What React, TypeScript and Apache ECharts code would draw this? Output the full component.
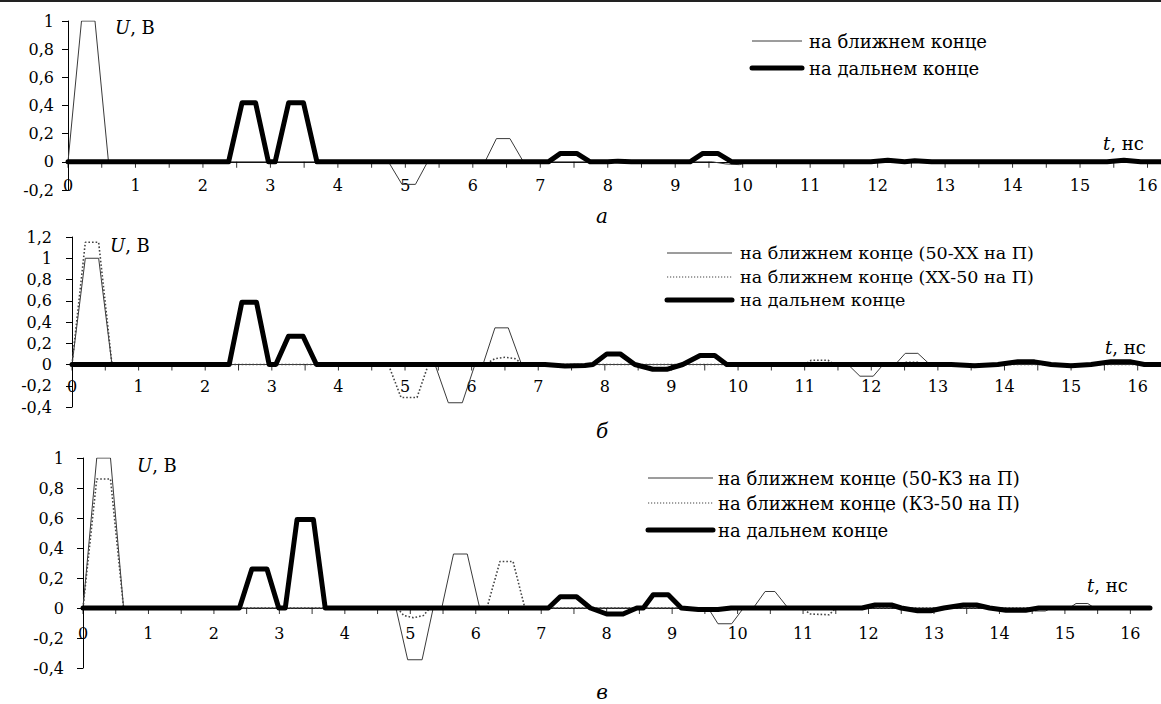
import React, { useEffect, useRef } from 'react';
import * as echarts from 'echarts';

const FONT = 'DejaVu Serif';

// x-axis tick positions (every 0.5 ns)
const xTicks: number[] = [
  0, 0.5, 1, 1.5, 2, 2.5, 3, 3.5, 4, 4.5, 5, 5.5, 6, 6.5, 7, 7.5, 8, 8.5, 9, 9.5,
  10, 10.5, 11, 11.5, 12, 12.5, 13, 13.5, 14, 14.5, 15, 15.5, 16,
];

// Panel а
const xMaxA = 16.2;
const nearA: number[][] = [
  [0, 0], [0.2, 1], [0.4, 1], [0.6, 0], [4.75, 0], [4.95, -0.16], [5.15, -0.16], [5.33, 0],
  [6.18, 0], [6.35, 0.165], [6.55, 0.165], [6.75, 0], [9.55, 0], [9.75, -0.015], [9.95, -0.02],
  [10.1, 0], [12.45, 0], [12.55, 0.01], [12.8, 0.01], [12.9, 0], [16.2, 0],
];
const farA: number[][] = [
  [0, 0], [2.38, 0], [2.58, 0.42], [2.78, 0.42], [2.97, 0], [3.07, 0], [3.27, 0.42], [3.49, 0.42],
  [3.69, 0], [7.12, 0], [7.3, 0.06], [7.54, 0.06], [7.74, 0], [8.0, 0], [8.15, 0.005], [8.35, 0],
  [9.22, 0], [9.41, 0.06], [9.63, 0.06], [9.84, 0], [11.9, 0], [12.15, 0.012], [12.4, 0],
  [12.55, 0.008], [12.8, 0], [15.4, 0], [15.65, 0.012], [15.9, 0], [16.2, 0],
];

// Panel б
const xMaxB = 16.35;
const nearB1: number[][] = [
  [0, 0], [0.2, 1], [0.4, 1], [0.6, 0], [5.45, 0], [5.65, -0.36], [5.86, -0.36], [6.05, 0],
  [6.17, 0], [6.35, 0.345], [6.55, 0.345], [6.75, 0], [11.65, 0], [11.83, -0.11], [12.03, -0.11],
  [12.18, 0], [12.36, 0], [12.51, 0.105], [12.7, 0.105], [12.88, 0], [16.35, 0],
];
const nearB2: number[][] = [
  [0, 0], [0.2, 1.15], [0.4, 1.15], [0.6, 0], [4.75, 0], [4.94, -0.31], [5.18, -0.31], [5.35, 0],
  [6.2, 0], [6.35, 0.055], [6.5, 0.068], [6.65, 0.055], [6.78, 0], [11.0, 0], [11.1, 0.04],
  [11.35, 0.04], [11.45, 0], [12.4, 0], [12.5, 0.02], [12.7, 0.02], [12.8, 0], [16.35, 0],
];
const farB: number[][] = [
  [0, 0], [2.36, 0], [2.55, 0.585], [2.77, 0.585], [2.96, 0], [3.06, 0], [3.25, 0.265], [3.47, 0.265],
  [3.67, 0], [7.1, 0], [7.4, -0.015], [7.7, -0.01], [7.82, 0], [8.03, 0.1], [8.23, 0.1], [8.45, 0],
  [8.72, -0.045], [8.93, -0.045], [9.17, 0], [9.43, 0.085], [9.65, 0.085], [9.83, 0], [13.2, 0],
  [13.55, -0.012], [13.9, 0], [14.2, 0.025], [14.45, 0.025], [14.7, 0], [15.0, -0.012], [15.3, 0],
  [15.6, 0.025], [15.9, 0.025], [16.1, 0], [16.35, 0],
];

// Panel в
const xMaxC = 16.3;
const nearC1: number[][] = [
  [0, 0], [0.21, 1], [0.42, 1], [0.62, 0], [4.78, 0], [4.96, -0.345], [5.18, -0.345], [5.35, 0],
  [5.48, 0], [5.66, 0.36], [5.87, 0.36], [6.06, 0], [9.55, 0], [9.7, -0.105], [9.91, -0.105],
  [10.09, 0], [10.24, 0], [10.42, 0.11], [10.57, 0.11], [10.77, 0], [14.45, 0], [14.55, -0.02],
  [14.7, -0.02], [14.8, 0], [15.07, 0], [15.17, 0.03], [15.35, 0.03], [15.45, 0], [16.3, 0],
];
const nearC2: number[][] = [
  [0, 0], [0.21, 0.86], [0.42, 0.86], [0.62, 0], [4.8, 0], [4.9, -0.05], [5.05, -0.065], [5.2, -0.05],
  [5.3, 0], [6.17, 0], [6.37, 0.31], [6.57, 0.31], [6.75, 0], [11.0, 0], [11.1, -0.04], [11.4, -0.045],
  [11.5, 0], [16.3, 0],
];
const farC: number[][] = [
  [0, 0], [2.39, 0], [2.58, 0.26], [2.81, 0.26], [2.99, 0], [3.09, 0], [3.27, 0.59], [3.52, 0.59],
  [3.7, 0], [7.11, 0], [7.29, 0.075], [7.54, 0.075], [7.75, 0], [8.0, -0.04], [8.25, -0.04], [8.46, 0],
  [8.56, 0], [8.71, 0.088], [8.94, 0.088], [9.14, 0], [9.4, -0.01], [9.7, -0.01], [9.9, 0], [11.9, 0],
  [12.1, 0.02], [12.35, 0.02], [12.5, 0], [12.75, -0.018], [12.95, -0.018], [13.15, 0], [13.45, 0.02],
  [13.65, 0.02], [13.85, 0], [14.1, -0.015], [14.4, -0.015], [14.6, 0], [16.3, 0],
];

const yRanges = [
  { min: -0.2, max: 1 },
  { min: -0.4, max: 1.2 },
  { min: -0.4, max: 1 },
];

const legendA = ['на ближнем конце', 'на дальнем конце'];
const legendB = ['на ближнем конце (50-ХХ на П)', 'на ближнем конце (ХХ-50 на П)', 'на дальнем конце'];
const legendC = ['на ближнем конце (50-КЗ на П)', 'на ближнем конце (КЗ-50 на П)', 'на дальнем конце'];
const captions = ['а', 'б', 'в'];

function fmtY(v: number): string {
  if (Math.abs(v - Math.round(v)) < 1e-9) return String(Math.round(v) === 0 ? 0 : Math.round(v));
  return v.toFixed(1).replace('.', ',');
}
function fmtX(v: number): string {
  if (Math.abs(v - Math.round(v)) < 1e-6 && v <= 16) return String(Math.round(v));
  return '';
}

const THIN = { color: '#3a3a3a', width: 1, type: 'solid' as const };
const DOT = { color: '#444', width: 1.6, type: [1.6, 2] as number[] };
const THICK = { color: '#000', width: 5, type: 'solid' as const, cap: 'round' as const, join: 'round' as const };

export default function App() {
  const ref = useRef<HTMLDivElement>(null);
  useEffect(() => {
    document.body.style.margin = '0';
    if (!ref.current) return;
    const chart = echarts.init(ref.current, null, { renderer: 'svg' });

    const grids = [
      { left: 68, top: 21, width: 1093, height: 169 },
      { left: 72, top: 237, width: 1089, height: 170 },
      { left: 83, top: 458, width: 1067, height: 210 },
    ];
    const xMaxes = [xMaxA, xMaxB, xMaxC];
    const xMargins = [-13, -29, -43];
    const yMargins = [14, 20, 19];

    const xAxes = grids.map((_, i) => ({
      type: 'value',
      gridIndex: i,
      min: 0,
      max: xMaxes[i],
      interval: 0.5,
      axisLine: { show: true, onZero: true, lineStyle: { color: '#000', width: 1 } },
      axisTick: { show: false },
      axisLabel: {
        formatter: fmtX,
        margin: xMargins[i],
        color: '#000',
        fontFamily: FONT,
        fontSize: 16,
        showMaxLabel: false,
      },
      splitLine: { show: false },
    }));
    const yAxes = grids.map((_, i) => ({
      type: 'value',
      gridIndex: i,
      min: yRanges[i].min,
      max: yRanges[i].max,
      interval: 0.2,
      axisLine: { show: true, onZero: false, lineStyle: { color: '#000', width: 1 } },
      axisTick: { show: true, length: 6, lineStyle: { color: '#000', width: 1 } },
      axisLabel: {
        formatter: fmtY,
        margin: yMargins[i],
        color: '#000',
        fontFamily: FONT,
        fontSize: 16,
      },
      splitLine: { show: false },
    }));

    const mk = (name: string, data: number[][], gi: number, ls: any, z: number) => ({
      name,
      type: 'line',
      xAxisIndex: gi,
      yAxisIndex: gi,
      data,
      symbol: 'none',
      showSymbol: false,
      lineStyle: ls,
      z,
      silent: true,
    });

    const tickSeries = grids.map((_, gi) => ({
      type: 'scatter',
      xAxisIndex: gi,
      yAxisIndex: gi,
      data: xTicks.map((t) => [t, 0]),
      symbol: 'rect',
      symbolSize: [1, 6],
      symbolOffset: [0, 3],
      itemStyle: { color: '#000' },
      silent: true,
      z: 4,
      tooltip: { show: false },
    }));

    const series = [
      mk(legendA[0], nearA, 0, THIN, 2),
      mk(legendA[1], farA, 0, THICK, 3),
      mk(legendB[0], nearB1, 1, THIN, 2),
      mk(legendB[1], nearB2, 1, DOT, 2),
      mk(legendB[2], farB, 1, THICK, 3),
      mk(legendC[0], nearC1, 2, THIN, 2),
      mk(legendC[1], nearC2, 2, DOT, 2),
      mk(legendC[2], farC, 2, THICK, 3),
      ...tickSeries,
    ];

    const legendSpecs = [
      { x1: 752, x2: 802, tx: 809, ys: [41, 68], names: legendA, styles: [THIN, THICK], fs: 18 },
      { x1: 667, x2: 732, tx: 740, ys: [253, 277, 300], names: legendB, styles: [THIN, DOT, THICK], fs: 17.5 },
      { x1: 648, x2: 713, tx: 718, ys: [478, 503, 530], names: legendC, styles: [THIN, DOT, THICK], fs: 18 },
    ];
    const graphic: any[] = [
      { type: 'line', shape: { x1: 0, y1: 1, x2: 1161, y2: 1 }, style: { stroke: '#222', lineWidth: 2 } },
    ];
    legendSpecs.forEach((L) => {
      L.names.forEach((n, k) => {
        const s: any = L.styles[k];
        graphic.push({
          type: 'line',
          shape: { x1: L.x1, y1: L.ys[k], x2: L.x2, y2: L.ys[k] },
          style: {
            stroke: s.color,
            lineWidth: s === THICK ? 5 : s === DOT ? 1.2 : 1,
            lineDash: s === DOT ? [1.2, 1.8] : null,
            lineCap: s === THICK ? 'round' : 'butt',
          },
        });
        graphic.push({
          type: 'text',
          x: L.tx,
          y: L.ys[k],
          style: { text: n, fontFamily: FONT, fontSize: L.fs, fill: '#000', verticalAlign: 'middle', align: 'left' },
        });
      });
    });
    const uPos = [[115, 27], [110, 245], [137, 465]];
    const tPos = [[1103, 143], [1105, 347], [1087, 585]];
    const capY = [216, 431, 692];
    for (let i = 0; i < 3; i++) {
      graphic.push({
        type: 'text', x: uPos[i][0], y: uPos[i][1],
        style: {
          text: '{i|U}{r|, В}',
          verticalAlign: 'middle',
          rich: {
            i: { fontFamily: FONT, fontSize: 18, fontStyle: 'italic', fill: '#000' },
            r: { fontFamily: FONT, fontSize: 18, fill: '#000' },
          },
        },
      });
      graphic.push({
        type: 'text', x: tPos[i][0], y: tPos[i][1],
        style: {
          text: '{i|t}{r|, нс}',
          verticalAlign: 'middle',
          rich: {
            i: { fontFamily: FONT, fontSize: 18, fontStyle: 'italic', fill: '#000' },
            r: { fontFamily: FONT, fontSize: 18, fill: '#000' },
          },
        },
      });
      graphic.push({
        type: 'text', x: 602, y: capY[i],
        style: { text: captions[i], fontFamily: FONT, fontSize: 20, fontStyle: 'italic', fill: '#000', align: 'center', verticalAlign: 'middle' },
      });
    }

    chart.setOption({
      animation: false,
      backgroundColor: '#fff',
      grid: grids,
      xAxis: xAxes,
      yAxis: yAxes,
      series,
      graphic,
    } as any);
    return () => chart.dispose();
  }, []);
  return <div ref={ref} style={{ width: 1161, height: 704 }} />;
}
